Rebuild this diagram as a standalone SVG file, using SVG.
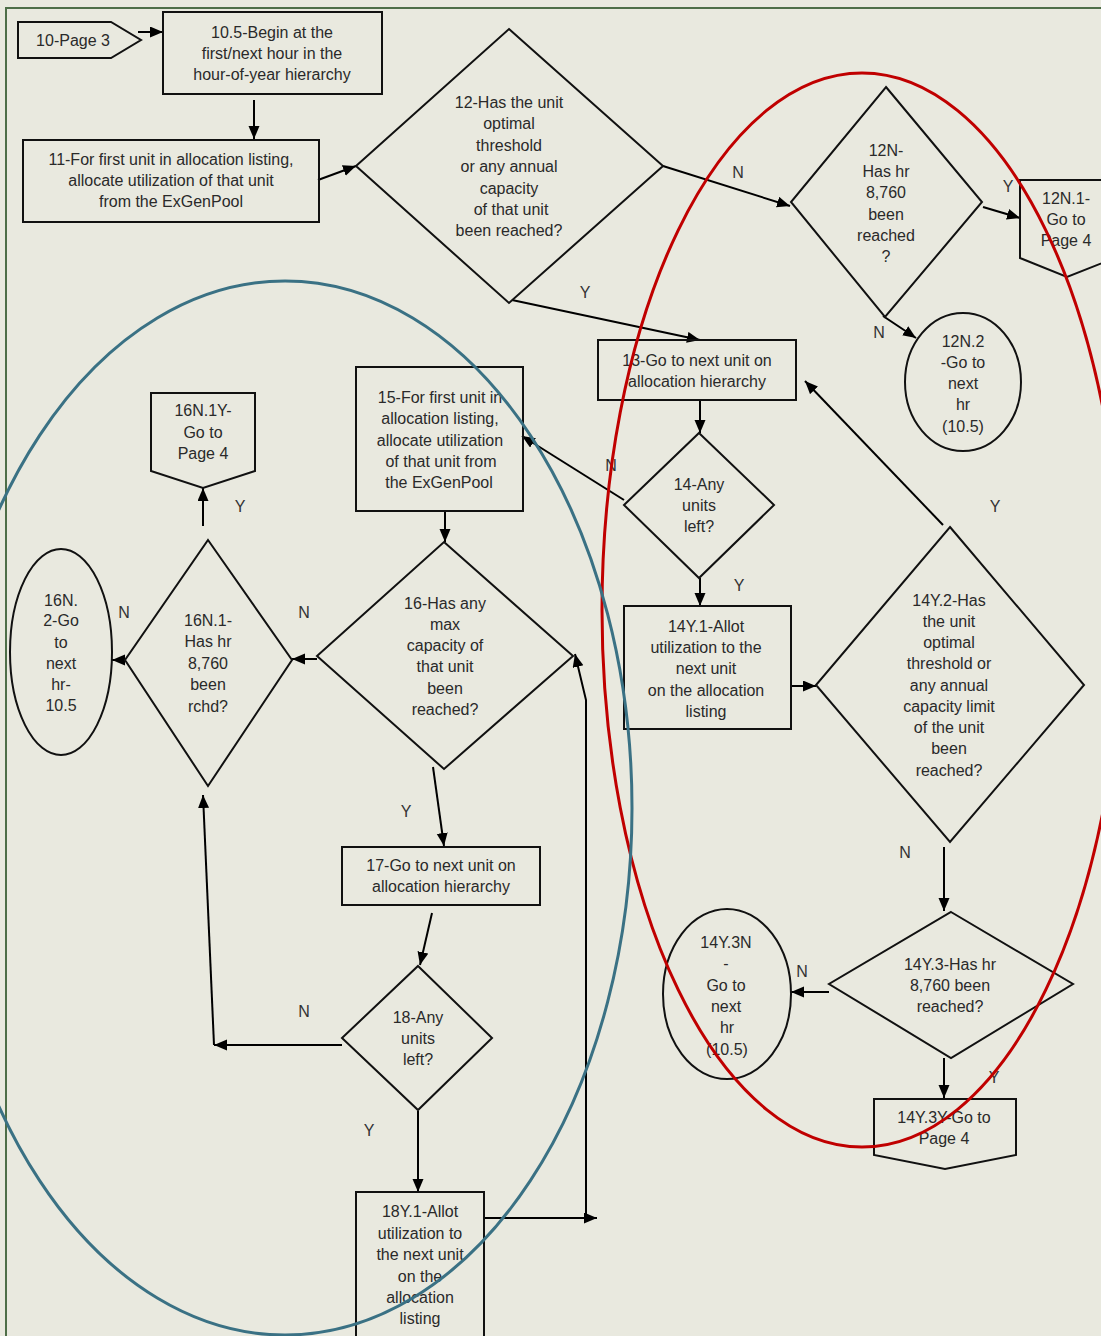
<svg xmlns="http://www.w3.org/2000/svg" width="1101" height="1336" viewBox="0 0 1101 1336">
  <defs>
    <marker id="arrow" markerUnits="userSpaceOnUse" markerWidth="14" markerHeight="12" refX="13" refY="5.5" orient="auto">
      <path d="M0,0 L13,5.5 L0,11 z" fill="#000"/>
    </marker>
    <style>
      .shape { fill: none; stroke: #111; stroke-width: 2; }
      .conn { fill: none; stroke: #000; stroke-width: 2; marker-end: url(#arrow); }
      .line { fill: none; stroke: #000; stroke-width: 2; }
      text { font-family: "Liberation Sans", Arial, sans-serif; font-size: 16px; fill: #2a2a2a; text-anchor: middle; }
      .lbl { fill: #333; }
    </style>
  </defs>

  <!-- page background and frame -->
  <rect x="0" y="0" width="1101" height="1336" fill="#E9E9DF"/>
  <rect x="6" y="8" width="1200" height="1400" fill="none" stroke="#4E6E48" stroke-width="2"/>

  <!-- connectors -->
  <g id="connectors">
    <path class="conn" d="M138,32 L163,32"/>
    <path class="conn" d="M254,100 L254,139"/>
    <path class="conn" d="M318,180 L356,166"/>
    <path class="conn" d="M663,166 L790,206"/>
    <path class="conn" d="M512,300 L700,340"/>
    <path class="conn" d="M983,207 L1020,218"/>
    <path class="conn" d="M883,316 L916,338"/>
    <path class="conn" d="M700,400 L700,433"/>
    <path class="conn" d="M624,500 L522,436"/>
    <path class="conn" d="M700,578 L700,606"/>
    <path class="conn" d="M791,686 L816,686"/>
    <path class="conn" d="M943,525 L805,381"/>
    <path class="conn" d="M944,847 L944,911"/>
    <path class="conn" d="M829,992 L791,992"/>
    <path class="conn" d="M944,1058 L944,1098"/>
    <path class="conn" d="M445,512 L445,542"/>
    <path class="conn" d="M317,659 L292,659"/>
    <path class="conn" d="M433,767 L444,846"/>
    <path class="conn" d="M203,526 L203,488"/>
    <path class="conn" d="M126,660 L112,660"/>
    <path class="conn" d="M432,913 L420,965"/>
    <path class="conn" d="M342,1045 L214,1045"/>
    <path class="conn" d="M214,1045 L203,795"/>
    <path class="conn" d="M418,1111 L418,1192"/>
    <path class="conn" d="M484,1218 L597,1218"/>
    <path class="conn" d="M586,1218 L586,700 L575,654"/>
  </g>

  <!-- Y / N branch labels -->
  <g id="branch-labels">
    <text class="lbl" x="738" y="178">N</text>
    <text class="lbl" x="585" y="298">Y</text>
    <text class="lbl" x="1008" y="192">Y</text>
    <text class="lbl" x="879" y="338">N</text>
    <text class="lbl" x="611" y="471">N</text>
    <text class="lbl" x="739" y="591">Y</text>
    <text class="lbl" x="995" y="512">Y</text>
    <text class="lbl" x="905" y="858">N</text>
    <text class="lbl" x="802" y="977">N</text>
    <text class="lbl" x="994" y="1083">Y</text>
    <text class="lbl" x="240" y="512">Y</text>
    <text class="lbl" x="124" y="618">N</text>
    <text class="lbl" x="304" y="618">N</text>
    <text class="lbl" x="406" y="817">Y</text>
    <text class="lbl" x="304" y="1017">N</text>
    <text class="lbl" x="369" y="1136">Y</text>
  </g>

  <!-- nodes -->
  <g id="n10">
    <polygon class="shape" points="18,22 111,22 141,40 111,58 18,58"/>
    <text x="73" y="46">10-Page 3</text>
  </g>
  <g id="n10_5">
    <rect class="shape" x="163" y="12" width="219" height="82"/>
    <text x="272" y="38">10.5-Begin at the</text>
    <text x="272" y="59">first/next hour in the</text>
    <text x="272" y="80">hour-of-year hierarchy</text>
  </g>
  <g id="n11">
    <rect class="shape" x="23" y="140" width="296" height="82"/>
    <text x="171" y="165">11-For first unit in allocation listing,</text>
    <text x="171" y="186">allocate utilization of that unit</text>
    <text x="171" y="207">from the ExGenPool</text>
  </g>
  <g id="n12">
    <polygon class="shape" points="509,29 663,166 509,303 356,166"/>
    <text x="509" y="108">12-Has the unit</text>
    <text x="509" y="129">optimal</text>
    <text x="509" y="151">threshold</text>
    <text x="509" y="172">or any annual</text>
    <text x="509" y="194">capacity</text>
    <text x="511" y="215">of that unit</text>
    <text x="509" y="236">been reached?</text>
  </g>
  <g id="n12N">
    <polygon class="shape" points="886,87 982,202 885,317 791,202"/>
    <text x="886" y="156">12N-</text>
    <text x="886" y="177">Has hr</text>
    <text x="886" y="198">8,760</text>
    <text x="886" y="220">been</text>
    <text x="886" y="241">reached</text>
    <text x="886" y="262">?</text>
  </g>
  <g id="n12N_1">
    <polygon class="shape" points="1020,180 1115,180 1115,258 1067,277 1020,258"/>
    <text x="1066" y="204">12N.1-</text>
    <text x="1066" y="225">Go to</text>
    <text x="1066" y="246">Page 4</text>
  </g>
  <g id="n12N_2">
    <ellipse class="shape" cx="963" cy="382" rx="58" ry="69"/>
    <text x="963" y="347">12N.2</text>
    <text x="963" y="368">-Go to</text>
    <text x="963" y="389">next</text>
    <text x="963" y="410">hr</text>
    <text x="963" y="432">(10.5)</text>
  </g>
  <g id="n13">
    <rect class="shape" x="598" y="340" width="198" height="60"/>
    <text x="697" y="366">13-Go to next unit on</text>
    <text x="697" y="387">allocation hierarchy</text>
  </g>
  <g id="n14">
    <polygon class="shape" points="699,433 774,505 699,578 624,505"/>
    <text x="699" y="490">14-Any</text>
    <text x="699" y="511">units</text>
    <text x="699" y="532">left?</text>
  </g>
  <g id="n14Y_1">
    <rect class="shape" x="624" y="606" width="167" height="123"/>
    <text x="706" y="632">14Y.1-Allot</text>
    <text x="706" y="653">utilization to the</text>
    <text x="706" y="674">next unit</text>
    <text x="706" y="696">on the allocation</text>
    <text x="706" y="717">listing</text>
  </g>
  <g id="n14Y_2">
    <polygon class="shape" points="950,527 1084,685 950,842 816,685"/>
    <text x="949" y="606">14Y.2-Has</text>
    <text x="949" y="627">the unit</text>
    <text x="949" y="648">optimal</text>
    <text x="949" y="669">threshold or</text>
    <text x="949" y="691">any annual</text>
    <text x="949" y="712">capacity limit</text>
    <text x="949" y="733">of the unit</text>
    <text x="949" y="754">been</text>
    <text x="949" y="776">reached?</text>
  </g>
  <g id="n14Y_3">
    <polygon class="shape" points="951,912 1073,984 951,1058 829,984"/>
    <text x="950" y="970">14Y.3-Has hr</text>
    <text x="950" y="991">8,760 been</text>
    <text x="950" y="1012">reached?</text>
  </g>
  <g id="n14Y_3N">
    <ellipse class="shape" cx="727" cy="994" rx="64" ry="85"/>
    <text x="726" y="948">14Y.3N</text>
    <text x="726" y="969">-</text>
    <text x="726" y="991">Go to</text>
    <text x="726" y="1012">next</text>
    <text x="727" y="1033">hr</text>
    <text x="727" y="1055">(10.5)</text>
  </g>
  <g id="n14Y_3Y">
    <polygon class="shape" points="874,1099 1016,1099 1016,1155 945,1169 874,1155"/>
    <text x="944" y="1123">14Y.3Y-Go to</text>
    <text x="944" y="1144">Page 4</text>
  </g>
  <g id="n15">
    <rect class="shape" x="356" y="367" width="167" height="144"/>
    <text x="440" y="403">15-For first unit in</text>
    <text x="440" y="424">allocation listing,</text>
    <text x="440" y="446">allocate utilization</text>
    <text x="441" y="467">of that unit from</text>
    <text x="439" y="488">the ExGenPool</text>
  </g>
  <g id="n16">
    <polygon class="shape" points="444,542 573,656 444,769 317,656"/>
    <text x="445" y="609">16-Has any</text>
    <text x="445" y="630">max</text>
    <text x="445" y="651">capacity of</text>
    <text x="445" y="672">that unit</text>
    <text x="445" y="694">been</text>
    <text x="445" y="715">reached?</text>
  </g>
  <g id="n16N_1">
    <polygon class="shape" points="208,540 292,660 208,786 125,660"/>
    <text x="208" y="626">16N.1-</text>
    <text x="208" y="647">Has hr</text>
    <text x="208" y="669">8,760</text>
    <text x="208" y="690">been</text>
    <text x="208" y="712">rchd?</text>
  </g>
  <g id="n16N_1Y">
    <polygon class="shape" points="151,393 255,393 255,471 203,488 151,471"/>
    <text x="203" y="416">16N.1Y-</text>
    <text x="203" y="438">Go to</text>
    <text x="203" y="459">Page 4</text>
  </g>
  <g id="n16N_2">
    <ellipse class="shape" cx="61" cy="652" rx="51" ry="103"/>
    <text x="61" y="606">16N.</text>
    <text x="61" y="626">2-Go</text>
    <text x="61" y="648">to</text>
    <text x="61" y="669">next</text>
    <text x="61" y="690">hr-</text>
    <text x="61" y="711">10.5</text>
  </g>
  <g id="n17">
    <rect class="shape" x="342" y="847" width="198" height="58"/>
    <text x="441" y="871">17-Go to next unit on</text>
    <text x="441" y="892">allocation hierarchy</text>
  </g>
  <g id="n18">
    <polygon class="shape" points="418,966 492,1038 418,1110 342,1038"/>
    <text x="418" y="1023">18-Any</text>
    <text x="418" y="1044">units</text>
    <text x="418" y="1065">left?</text>
  </g>
  <g id="n18Y_1">
    <rect class="shape" x="356" y="1192" width="128" height="160"/>
    <text x="420" y="1217">18Y.1-Allot</text>
    <text x="420" y="1239">utilization to</text>
    <text x="420" y="1260">the next unit</text>
    <text x="420" y="1282">on the</text>
    <text x="420" y="1303">allocation</text>
    <text x="420" y="1324">listing</text>
  </g>

  <!-- highlight rings drawn over the chart -->
  <g id="highlights" fill="none" stroke-width="3">
    <ellipse cx="862" cy="610" rx="260" ry="537" stroke="#C00000"/>
    <ellipse cx="285" cy="808" rx="347" ry="527" stroke="#3A7184"/>
  </g>
</svg>
